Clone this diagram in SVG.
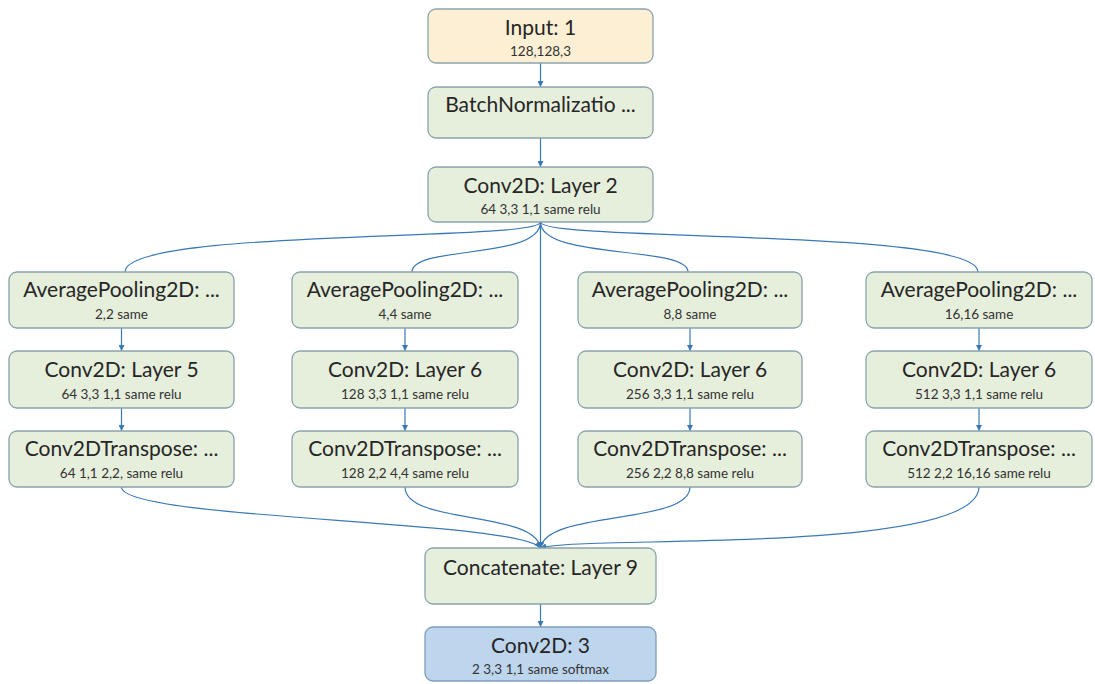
<svg xmlns="http://www.w3.org/2000/svg" width="1095" height="684" viewBox="0 0 1095 684">
<defs>
<style>
.n{fill:#e6eedc;stroke:#8aa3ad;stroke-width:1.3}
.in{fill:#fcefd3;stroke:#8aa3ad;stroke-width:1.3}
.out{fill:#bed5ee;stroke:#7f9db8;stroke-width:1.3}
.t{font-family:Lato,"Liberation Sans",sans-serif;font-size:21px;fill:#262626;text-anchor:middle}
.s{font-family:Lato,"Liberation Sans",sans-serif;font-size:13.5px;fill:#333333;text-anchor:middle}
.c{fill:none;stroke:#3a78b5;stroke-width:1.2}
</style>
<marker id="ah" viewBox="0 0 10 10" refX="10" refY="5" markerWidth="6" markerHeight="6" orient="auto" markerUnits="userSpaceOnUse">
<path d="M0,0 L10,5 L0,10 z" fill="#3a78b5"/>
</marker>
</defs>
<rect width="1095" height="684" fill="#ffffff"/>
<g id="connectors">
<path class="c" d="M540.5,63 V87" marker-end="url(#ah)"/>
<path class="c" d="M540.5,138 V167" marker-end="url(#ah)"/>
<path class="c" d="M540.5,222 C540.5,242 125,228 125,272"/>
<path class="c" d="M540.5,222 C540.5,260 412,245 412,272"/>
<path class="c" d="M540.5,222 C540.5,260 688,245 688,272"/>
<path class="c" d="M540.5,222 C540.5,242 978,228 978,272"/>
<path class="c" d="M540.5,222 V548" marker-end="url(#ah)"/>
<path class="c" d="M121.5,328 V351" marker-end="url(#ah)"/>
<path class="c" d="M405,328 V351" marker-end="url(#ah)"/>
<path class="c" d="M690,328 V351" marker-end="url(#ah)"/>
<path class="c" d="M979,328 V351" marker-end="url(#ah)"/>
<path class="c" d="M121.5,408 V431" marker-end="url(#ah)"/>
<path class="c" d="M405,408 V431" marker-end="url(#ah)"/>
<path class="c" d="M690,408 V431" marker-end="url(#ah)"/>
<path class="c" d="M979,408 V431" marker-end="url(#ah)"/>
<path class="c" d="M121.5,487 C121.5,520 520,520 540.5,548" marker-end="url(#ah)"/>
<path class="c" d="M405,487 C405,525 535,510 540.5,548" marker-end="url(#ah)"/>
<path class="c" d="M690,487 C690,525 546,510 540.5,548" marker-end="url(#ah)"/>
<path class="c" d="M979,487 C978,555 580,535 540.5,548" marker-end="url(#ah)"/>
<path class="c" d="M540.5,604 V627" marker-end="url(#ah)"/>
</g>
<g id="input">
<rect class="in" x="428" y="9" width="225" height="54" rx="8"/>
<text class="t" x="540.5" y="35">Input: 1</text>
<text class="s" x="540.5" y="56">128,128,3</text>
</g>
<g id="batchnorm">
<rect class="n" x="428" y="87" width="225" height="51" rx="8"/>
<text class="t" x="540.5" y="112">BatchNormalizatio ...</text>
</g>
<g id="conv2">
<rect class="n" x="428" y="167" width="225" height="55" rx="8"/>
<text class="t" x="540.5" y="193">Conv2D: Layer 2</text>
<text class="s" x="540.5" y="214">64 3,3 1,1 same relu</text>
</g>
<g id="pool1">
<rect class="n" x="9" y="272" width="225" height="56" rx="8"/>
<text class="t" x="121.5" y="297">AveragePooling2D: ...</text>
<text class="s" x="121.5" y="319">2,2 same</text>
</g>
<g id="pool2">
<rect class="n" x="292" y="272" width="226" height="56" rx="8"/>
<text class="t" x="405" y="297">AveragePooling2D: ...</text>
<text class="s" x="405" y="319">4,4 same</text>
</g>
<g id="pool3">
<rect class="n" x="578" y="272" width="224" height="56" rx="8"/>
<text class="t" x="690" y="297">AveragePooling2D: ...</text>
<text class="s" x="690" y="319">8,8 same</text>
</g>
<g id="pool4">
<rect class="n" x="866" y="272" width="226" height="56" rx="8"/>
<text class="t" x="979" y="297">AveragePooling2D: ...</text>
<text class="s" x="979" y="319">16,16 same</text>
</g>
<g id="conv5">
<rect class="n" x="9" y="351" width="225" height="57" rx="8"/>
<text class="t" x="121.5" y="377">Conv2D: Layer 5</text>
<text class="s" x="121.5" y="399">64 3,3 1,1 same relu</text>
</g>
<g id="conv6a">
<rect class="n" x="292" y="351" width="226" height="57" rx="8"/>
<text class="t" x="405" y="377">Conv2D: Layer 6</text>
<text class="s" x="405" y="399">128 3,3 1,1 same relu</text>
</g>
<g id="conv6b">
<rect class="n" x="578" y="351" width="224" height="57" rx="8"/>
<text class="t" x="690" y="377">Conv2D: Layer 6</text>
<text class="s" x="690" y="399">256 3,3 1,1 same relu</text>
</g>
<g id="conv6c">
<rect class="n" x="866" y="351" width="226" height="57" rx="8"/>
<text class="t" x="979" y="377">Conv2D: Layer 6</text>
<text class="s" x="979" y="399">512 3,3 1,1 same relu</text>
</g>
<g id="trans1">
<rect class="n" x="9" y="431" width="225" height="56" rx="8"/>
<text class="t" x="121.5" y="456">Conv2DTranspose: ...</text>
<text class="s" x="121.5" y="478">64 1,1 2,2, same relu</text>
</g>
<g id="trans2">
<rect class="n" x="292" y="431" width="226" height="56" rx="8"/>
<text class="t" x="405" y="456">Conv2DTranspose: ...</text>
<text class="s" x="405" y="478">128 2,2 4,4 same relu</text>
</g>
<g id="trans3">
<rect class="n" x="578" y="431" width="224" height="56" rx="8"/>
<text class="t" x="690" y="456">Conv2DTranspose: ...</text>
<text class="s" x="690" y="478">256 2,2 8,8 same relu</text>
</g>
<g id="trans4">
<rect class="n" x="866" y="431" width="226" height="56" rx="8"/>
<text class="t" x="979" y="456">Conv2DTranspose: ...</text>
<text class="s" x="979" y="478">512 2,2 16,16 same relu</text>
</g>
<g id="concat">
<rect class="n" x="425" y="548" width="231" height="56" rx="8"/>
<text class="t" x="540.5" y="575">Concatenate: Layer 9</text>
</g>
<g id="conv3">
<rect class="out" x="425" y="627" width="231" height="54" rx="8"/>
<text class="t" x="540.5" y="653">Conv2D: 3</text>
<text class="s" x="540.5" y="674">2 3,3 1,1 same softmax</text>
</g>
</svg>
